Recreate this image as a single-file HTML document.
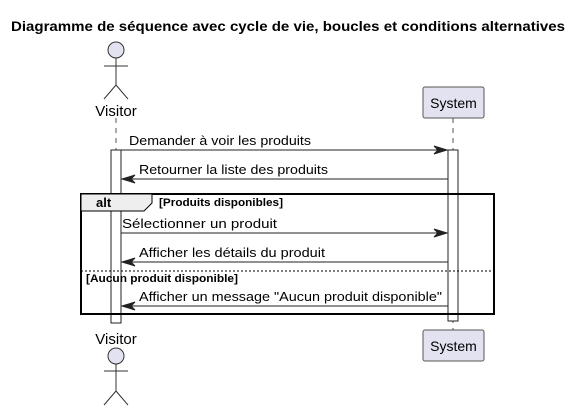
<!DOCTYPE html>
<html><head><meta charset="utf-8"><style>html,body{margin:0;padding:0;background:#fff}svg{display:block}</style></head>
<body>
<svg width="581" height="411" viewBox="0 0 581 411" xmlns="http://www.w3.org/2000/svg" font-family="Liberation Sans, sans-serif">
<text x="11" y="31" font-size="14" font-weight="bold" textLength="554" lengthAdjust="spacingAndGlyphs" fill="#000">Diagramme de séquence avec cycle de vie, boucles et conditions alternatives</text>
<line x1="116" y1="118" x2="116" y2="328" stroke="#555" stroke-dasharray="5,5"/>
<line x1="453" y1="118" x2="453" y2="330" stroke="#555" stroke-dasharray="5,5"/>
<g stroke="#333" fill="none" stroke-width="1">
<circle cx="116" cy="50" r="8" fill="#e2e2f0"/>
<line x1="116" y1="58" x2="116" y2="85"/><line x1="104" y1="66" x2="128" y2="66"/>
<line x1="116" y1="85" x2="104" y2="99"/><line x1="116" y1="85" x2="128" y2="99"/>
<circle cx="116" cy="356" r="8" fill="#e2e2f0"/>
<line x1="116" y1="364" x2="116" y2="391"/><line x1="104" y1="371" x2="128" y2="371"/>
<line x1="116" y1="391" x2="104" y2="405"/><line x1="116" y1="391" x2="128" y2="405"/>
</g>
<text x="116" y="116" font-size="15" text-anchor="middle">Visitor</text>
<text x="116" y="344" font-size="15" text-anchor="middle">Visitor</text>
<rect x="423" y="87" width="61" height="31" rx="2" fill="#e2e2f0" stroke="#555"/>
<text x="453.5" y="108" font-size="14" text-anchor="middle">System</text>
<rect x="423" y="330" width="61" height="31" rx="2" fill="#e2e2f0" stroke="#555"/>
<text x="453.5" y="351" font-size="14" text-anchor="middle">System</text>
<rect x="111" y="150" width="10" height="173" fill="#fff" stroke="#222"/>
<rect x="448" y="150" width="10" height="171" fill="#fff" stroke="#222"/>
<rect x="81" y="194" width="413" height="120" fill="none" stroke="#000" stroke-width="2"/>
<path d="M81 194 H152 V203 L144 211 H81 Z" fill="#eee" stroke="#000" stroke-width="1"/>
<text x="96" y="207" font-size="13" font-weight="bold">alt</text>
<text x="159" y="206" font-size="11" font-weight="bold" textLength="124" lengthAdjust="spacingAndGlyphs">[Produits disponibles]</text>
<line x1="81" y1="271" x2="494" y2="271" stroke="#000" stroke-dasharray="2,2"/>
<text x="86" y="282" font-size="11" font-weight="bold" textLength="152" lengthAdjust="spacingAndGlyphs">[Aucun produit disponible]</text>
<g stroke="#222" fill="#222">
<line x1="121" y1="150" x2="446" y2="150"/><path d="M447 150 L434 146 L438 150 L434 154 Z"/>
<line x1="122" y1="179" x2="448" y2="179"/><path d="M122 179 L135 175 L131 179 L135 183 Z"/>
<line x1="121" y1="233" x2="446" y2="233"/><path d="M447 233 L434 229 L438 233 L434 237 Z"/>
<line x1="122" y1="262" x2="448" y2="262"/><path d="M122 262 L135 258 L131 262 L135 266 Z"/>
<line x1="122" y1="306" x2="448" y2="306"/><path d="M122 306 L135 302 L131 306 L135 310 Z"/>
</g>
<g font-size="13" fill="#000">
<text x="129" y="145" textLength="182" lengthAdjust="spacingAndGlyphs">Demander à voir les produits</text>
<text x="139" y="174" textLength="189" lengthAdjust="spacingAndGlyphs">Retourner la liste des produits</text>
<text x="122" y="228" textLength="155" lengthAdjust="spacingAndGlyphs">Sélectionner un produit</text>
<text x="139" y="257" textLength="186" lengthAdjust="spacingAndGlyphs">Afficher les détails du produit</text>
<text x="139" y="301" textLength="303" lengthAdjust="spacingAndGlyphs">Afficher un message "Aucun produit disponible"</text>
</g>
</svg>
</body></html>
